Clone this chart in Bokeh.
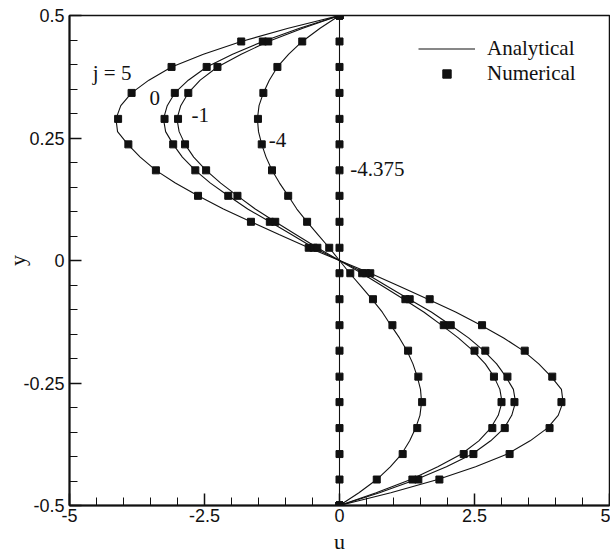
from bokeh.plotting import figure
from bokeh.models import FixedTicker, Label, Legend, LegendItem, Range1d
from bokeh.embed import file_html
from bokeh.resources import INLINE

# ---- data ----
y_num = [0.5, 0.447, 0.395, 0.342, 0.289, 0.237, 0.184, 0.132, 0.079, 0.026,
         -0.026, -0.079, -0.132, -0.184, -0.237, -0.289, -0.342, -0.395, -0.447, -0.5]
num_j5 = [0, -1.82, -3.11, -3.85, -4.10, -3.91, -3.40, -2.62, -1.64, -0.57,
          0.57, 1.67, 2.64, 3.43, 3.94, 4.11, 3.89, 3.15, 1.85, 0]
num_j0 = [0, -1.42, -2.46, -3.05, -3.24, -3.08, -2.67, -2.06, -1.29, -0.48,
          0.49, 1.30, 2.06, 2.70, 3.11, 3.24, 3.06, 2.48, 1.46, 0]
num_jm1 = [0, -1.32, -2.26, -2.80, -2.99, -2.86, -2.47, -1.89, -1.19, -0.41,
           0.42, 1.22, 1.93, 2.50, 2.86, 3.00, 2.83, 2.30, 1.35, 0]
num_jm4 = [0, -0.69, -1.15, -1.41, -1.51, -1.44, -1.25, -0.95, -0.60, -0.19,
           0.20, 0.62, 0.98, 1.27, 1.46, 1.53, 1.44, 1.17, 0.69, 0]
num_jm4375 = [0, 0, 0, 0, 0, 0, 0, 0, 0, 0, 0, 0, 0, 0, 0, 0, 0, 0, 0, 0]

y_ana = [0.5, 0.474, 0.447, 0.421, 0.395, 0.368, 0.342, 0.316, 0.289, 0.263,
         0.237, 0.211, 0.184, 0.158, 0.132, 0.105, 0.079, 0.053, 0.026, 0.0,
         -0.026, -0.053, -0.079, -0.105, -0.132, -0.158, -0.184, -0.211, -0.237,
         -0.263, -0.289, -0.316, -0.342, -0.368, -0.395, -0.421, -0.447, -0.474, -0.5]
ana_j5 = [0, -0.95, -1.82, -2.52, -3.11, -3.53, -3.85, -4.05, -4.14, -4.11,
          -3.92, -3.69, -3.40, -3.04, -2.62, -2.15, -1.64, -1.12, -0.57, 0,
          0.57, 1.12, 1.64, 2.15, 2.62, 3.04, 3.40, 3.69, 3.92,
          4.11, 4.14, 4.05, 3.85, 3.53, 3.11, 2.52, 1.82, 0.95, 0]
ana_j0 = [0, -0.74, -1.42, -1.98, -2.46, -2.80, -3.05, -3.19, -3.26, -3.22,
          -3.08, -2.91, -2.67, -2.39, -2.06, -1.70, -1.29, -0.89, -0.48, 0,
          0.48, 0.89, 1.29, 1.70, 2.06, 2.39, 2.67, 2.91, 3.08,
          3.22, 3.26, 3.19, 3.05, 2.80, 2.46, 1.98, 1.42, 0.74, 0]
ana_jm1 = [0, -0.68, -1.32, -1.82, -2.26, -2.58, -2.80, -2.94, -3.01, -2.97,
           -2.86, -2.70, -2.47, -2.20, -1.89, -1.56, -1.19, -0.81, -0.41, 0,
           0.41, 0.81, 1.19, 1.56, 1.89, 2.20, 2.47, 2.70, 2.86,
           2.97, 3.01, 2.94, 2.80, 2.58, 2.26, 1.82, 1.32, 0.68, 0]
ana_jm4 = [0, -0.36, -0.69, -0.94, -1.15, -1.30, -1.41, -1.49, -1.52, -1.50,
           -1.44, -1.36, -1.25, -1.11, -0.95, -0.79, -0.60, -0.40, -0.19, 0,
           0.19, 0.40, 0.60, 0.79, 0.95, 1.11, 1.25, 1.36, 1.44,
           1.50, 1.52, 1.49, 1.41, 1.30, 1.15, 0.94, 0.69, 0.36, 0]
ana_jm4375 = [0, 0, 0, 0, 0, 0, 0, 0, 0, 0, 0, 0, 0, 0, 0, 0, 0, 0, 0, 0,
              0, 0, 0, 0, 0, 0, 0, 0, 0, 0, 0, 0, 0, 0, 0, 0, 0, 0, 0]

x_ticks = [-5, -2.5, 0, 2.5, 5]
x_tick_labels = ["-5", "-2.5", "0", "2.5", "5"]
x_minor = [-4.5, -4, -3.5, -3, -2, -1.5, -1, -0.5, 0.5, 1, 1.5, 2, 3, 3.5, 4, 4.5]
y_ticks = [-0.5, -0.25, 0, 0.25, 0.5]
y_tick_labels = ["-0.5", "-0.25", "0", "0.25", "0.5"]
y_minor = [-0.45, -0.4, -0.35, -0.3, -0.2, -0.15, -0.1, -0.05,
           0.05, 0.1, 0.15, 0.2, 0.3, 0.35, 0.4, 0.45]

curve_labels = ["j = 5", "0", "-1", "-4", "-4.375"]
label_u = [-4.57, -3.52, -2.74, -1.31, 0.20]
label_y = [0.382, 0.332, 0.297, 0.246, 0.186]

INK = "#111111"
SERIF = "Liberation Serif"
SANS = "Liberation Sans"

p = figure(width=610, height=556, output_backend="svg", toolbar_location=None,
           x_range=Range1d(-5, 5), y_range=Range1d(-0.5, 0.5),
           min_border_left=69, min_border_right=1, min_border_top=15,
           min_border_bottom=48)
p.grid.visible = False
p.background_fill_color = "white"
p.border_fill_color = "white"
p.outline_line_color = INK
p.outline_line_width = 1.5

line_r = None
for u in [ana_j5, ana_j0, ana_jm1, ana_jm4, ana_jm4375]:
    line_r = p.line(u, y_ana, line_color=INK, line_width=1.1)
sc_r = None
for u in [num_j5, num_j0, num_jm1, num_jm4, num_jm4375]:
    sc_r = p.scatter(u, y_num, marker="square", size=7, fill_color=INK,
                     line_color=INK)

for t, xu, yv in zip(curve_labels, label_u, label_y):
    p.add_layout(Label(x=xu, y=yv, text=t, text_font=SERIF,
                       text_font_size="21px", text_color=INK,
                       text_baseline="middle", text_align="left"))

for ax, ticks, labels, minor in [(p.xaxis[0], x_ticks, x_tick_labels, x_minor),
                                 (p.yaxis[0], y_ticks, y_tick_labels, y_minor)]:
    ax.ticker = FixedTicker(ticks=ticks, minor_ticks=minor)
    ax.major_label_overrides = {t: l for t, l in zip(ticks, labels)}
    ax.major_tick_in = 12
    ax.major_tick_out = 0
    ax.minor_tick_in = 8
    ax.minor_tick_out = 0
    ax.axis_line_color = INK
    ax.axis_line_width = 2
    ax.major_tick_line_color = INK
    ax.minor_tick_line_color = INK
    ax.major_tick_line_width = 1.5
    ax.minor_tick_line_width = 1
    ax.major_label_text_font = SANS
    ax.major_label_text_font_size = "18px"
    ax.major_label_text_color = INK
    ax.axis_label_text_font = SERIF
    ax.axis_label_text_font_size = "22px"
    ax.axis_label_text_font_style = "normal"
    ax.axis_label_text_color = INK

p.xaxis[0].axis_label = "u"
p.xaxis[0].major_label_standoff = 3
p.xaxis[0].axis_label_standoff = 4
p.yaxis[0].axis_label = "y"
p.yaxis[0].major_label_standoff = 5
p.yaxis[0].axis_label_standoff = -10

legend = Legend(items=[LegendItem(label="Analytical", renderers=[line_r]),
                       LegendItem(label="Numerical", renderers=[sc_r])],
                location=(349, 419), orientation="vertical",
                glyph_width=57, glyph_height=21, label_height=21,
                label_standoff=12, spacing=0, padding=0, margin=0,
                border_line_color=None, background_fill_alpha=0,
                label_text_font=SERIF, label_text_font_size="21px",
                label_text_color=INK)
p.add_layout(legend)

open("out.html", "w").write(file_html(p, INLINE))
